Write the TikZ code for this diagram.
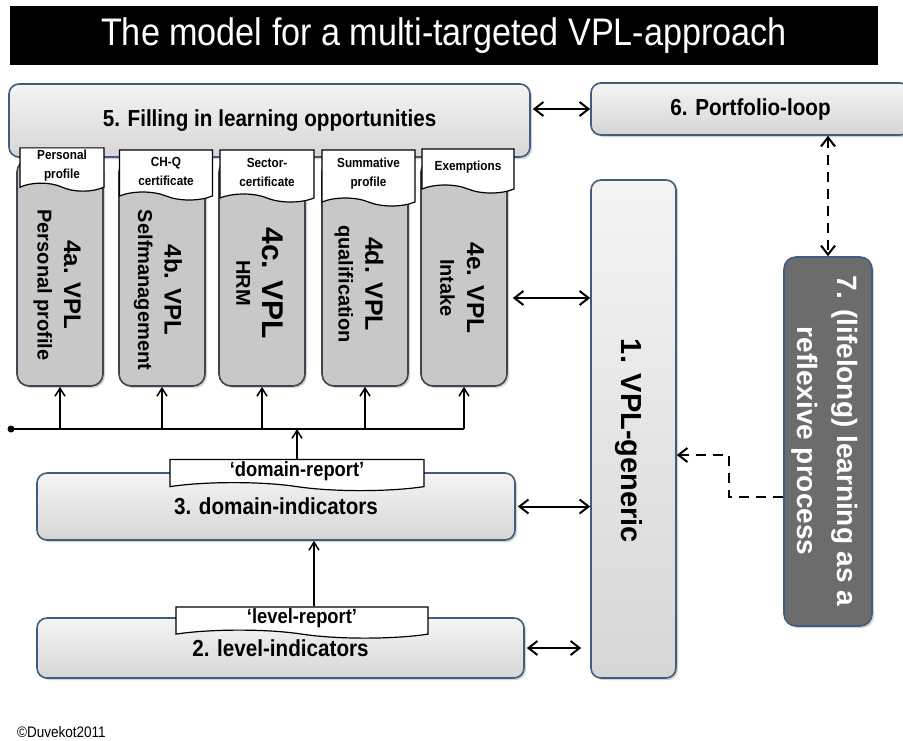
\documentclass[tikz,border=0pt]{standalone}
\usepackage{fontspec}
\setmainfont{Liberation Sans}
\newfontfamily\narrowfont[FakeStretch=0.89]{Liberation Sans}
\usetikzlibrary{arrows.meta,shapes.symbols,shadows}

\definecolor{boxtop}{HTML}{F4F4F4}
\definecolor{boxbot}{HTML}{D6D6D6}
\definecolor{boxline}{HTML}{3F5D7F}
\definecolor{colfill}{HTML}{C8C8C8}
\definecolor{colline}{HTML}{3C4550}
\definecolor{lifefill}{HTML}{6C6C6C}

\tikzset{
  blockbox/.style={draw=boxline, line width=0.8pt, rounded corners=5pt,
    top color=boxtop, bottom color=boxbot, inner sep=0pt,
    drop shadow={shadow xshift=1pt, shadow yshift=-1pt, opacity=0.35},
    font=\narrowfont\bfseries\fontsize{11.6}{14}\selectfont},
  vplcol/.style={draw=colline, line width=0.8pt, rounded corners=6pt, fill=colfill,
    minimum width=43pt, minimum height=113pt, inner sep=0pt,
    drop shadow={shadow xshift=1pt, shadow yshift=-1pt, opacity=0.35}},
  tabbox/.style={shape=tape, draw, fill=white, line width=0.6pt, inner sep=1pt,
    tape bend top=none, tape bend bottom=out and in, tape bend height=4pt,
    align=center, font=\narrowfont\bfseries\fontsize{6.6}{9.5}\selectfont},
  reptab/.style={tabbox, font=\narrowfont\bfseries\fontsize{10.3}{12}\selectfont},
  vlabel/.style={rotate=-90, align=center, font=\bfseries\fontsize{10}{13.3}\selectfont},
  dbl/.style={{Straight Barb[length=4.5pt,width=7pt]}-{Straight Barb[length=4.5pt,width=7pt]}, line width=1pt},
  uparrow/.style={-{Straight Barb[length=4pt,width=5pt]}, line width=0.75pt},
  dshd/.style={line width=1pt, dash pattern=on 5pt off 3.5pt}
}

\begin{document}
\begin{tikzpicture}[x=0.5pt,y=-0.5pt]
  \fill[white] (0,0) rectangle (903,740);
  \useasboundingbox (0,0) rectangle (903,740);

  \node[fill=black, minimum width=434pt, minimum height=29.5pt, text=white,
    font=\narrowfont\fontsize{19.2}{23}\selectfont] (title) at (444,35.5) {The model for a multi-targeted VPL-approach};

  \node[blockbox, minimum width=260.5pt, minimum height=36.5pt] (b5) at (269.5,120.5) {5. Filling in learning opportunities};
  \node[blockbox, minimum width=159.5pt, minimum height=26pt] (b6) at (750.5,109) {6. Portfolio-loop};

  \foreach \n/\x in {4a/60,4b/162,4c/262,4d/365,4e/464}
    \node[vplcol] (c\n) at (\x,273) {};

  \node[tabbox, minimum width=42pt, minimum height=19.5pt] (t4a) at (62,165.5) {Personal\\profile};
  \node[tabbox, minimum width=46.5pt, minimum height=25pt] (t4b) at (166,171) {CH-Q\\certificate};
  \node[tabbox, minimum width=47pt, minimum height=26pt] (t4c) at (267,172) {Sector-\\certificate};
  \node[tabbox, minimum width=46.5pt, minimum height=28pt] (t4d) at (368.5,174) {Summative\\profile};
  \node[tabbox, minimum width=46pt, minimum height=22pt] (t4e) at (468,167) {Exemptions};

  \node[vlabel] (l4a) at (57,285) {{\fontsize{12}{13.3}\selectfont 4a. VPL}\\Personal profile};
  \node[vlabel] (l4b) at (158,290) {{\fontsize{12}{13.3}\selectfont 4b. VPL}\\Selfmanagement};
  \node[vlabel] (l4c) at (260,283) {{\fontsize{15}{13.3}\selectfont 4c. VPL}\\HRM};
  \node[vlabel] (l4d) at (359,284) {{\fontsize{12.5}{13.3}\selectfont 4d. VPL}\\qualification};
  \node[vlabel] (l4e) at (462,288) {{\fontsize{12.2}{13.3}\selectfont 4e. VPL}\\Intake};

  \node[blockbox, minimum width=42.5pt, minimum height=249pt] (b1) at (633.5,429) {};
  \node[rotate=-90, font=\bfseries\fontsize{14.5}{17}\selectfont] (l1) at (629,441) {1. VPL-generic};

  \node[draw=boxline, line width=0.8pt, rounded corners=6pt, fill=lifefill, minimum width=44pt, minimum height=184.5pt,
    drop shadow={shadow xshift=1pt, shadow yshift=-1pt, opacity=0.35}] (b7) at (828,441.5) {};
  \node[rotate=-90, align=center, text=white, font=\bfseries\fontsize{14}{20}\selectfont] (l7) at (825,441) {7. (lifelong) learning as a\\reflexive process};

  \node[blockbox, minimum width=239pt, minimum height=33.5pt] (b3) at (276,506.5) {3. domain-indicators};
  \node[reptab, minimum width=127pt, minimum height=13pt] (dr) at (297,471) {‘domain-report’};

  \node[blockbox, minimum width=243.5pt, minimum height=30pt] (b2) at (280.5,648) {2. level-indicators};
  \node[reptab, minimum width=126pt, minimum height=13.5pt] (lr) at (302,618.5) {‘level-report’};

  \node[circle, fill=black, inner sep=0pt, minimum size=3.5pt] (bus) at (11,429) {};
  \node[anchor=west, font=\narrowfont\fontsize{7.6}{9.6}\selectfont] (copy) at (10,732) {©Duvekot2011};

  \draw[line width=1pt] (bus.center) -- (bus.center -| c4e.south);
  \foreach \n in {4a,4b,4c,4d,4e}
    \draw[uparrow] (bus.center -| c\n.south) -- (c\n.south);
  \draw[uparrow] (dr.north) -- (dr.north |- bus.center);
  \draw[uparrow] ([xshift=6pt]lr.north) -- ([xshift=6pt]lr.north |- b3.south);

  \draw[dbl, shorten <=1pt] (b5.east |- b6.west) -- (b6.west);
  \draw[dbl, dshd] (b7.north |- b6.south) -- (b7.north);
  \draw[dbl, shorten <=2.5pt] ([yshift=-12.5pt]c4e.east) -- ([yshift=-12.5pt]c4e.east -| b1.west);
  \draw[dbl, shorten <=1pt] (b3.east) -- (b3.east -| b1.west);
  \draw[dbl, shorten <=1pt, shorten >=4.5pt] (b2.east) -- (b2.east -| b1.west);
  \draw[dshd, -{Straight Barb[length=4.5pt,width=7pt]}] ([yshift=-27.75pt]b7.west) -- ++(-54,0) |- ([yshift=-13pt]b1.east);
\end{tikzpicture}
\end{document}
